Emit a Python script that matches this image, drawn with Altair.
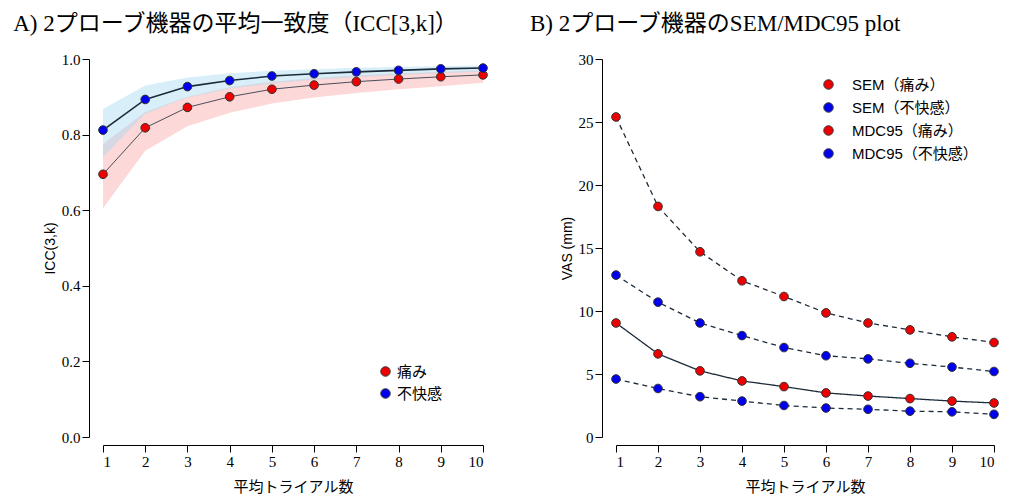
import altair as alt
import pandas as pd

trials = list(range(1, 11))
icc_pain = [0.695, 0.818, 0.872, 0.900, 0.920, 0.931, 0.940, 0.947, 0.953, 0.958]
icc_disc = [0.812, 0.893, 0.927, 0.943, 0.955, 0.961, 0.966, 0.970, 0.974, 0.976]
pain_lo = [0.605, 0.757, 0.822, 0.858, 0.882, 0.898, 0.910, 0.920, 0.928, 0.937]
pain_hi = [0.775, 0.860, 0.900, 0.925, 0.940, 0.950, 0.957, 0.962, 0.966, 0.970]
disc_lo = [0.740, 0.855, 0.898, 0.921, 0.935, 0.945, 0.952, 0.958, 0.962, 0.966]
disc_hi = [0.868, 0.930, 0.951, 0.962, 0.969, 0.973, 0.977, 0.979, 0.981, 0.983]
icc_ticks = [0, 0.1, 0.2, 0.3, 0.4, 0.5, 0.6, 0.7, 0.8, 0.9, 1.0]

mdc_pain = [25.4, 18.3, 14.7, 12.4, 11.15, 9.85, 9.05, 8.5, 7.95, 7.5]
mdc_disc = [12.85, 10.7, 9.05, 8.05, 7.1, 6.45, 6.2, 5.85, 5.55, 5.2]
sem_pain = [9.05, 6.6, 5.25, 4.45, 4.0, 3.5, 3.25, 3.05, 2.85, 2.7]
sem_disc = [4.6, 3.85, 3.2, 2.85, 2.5, 2.3, 2.2, 2.05, 2.0, 1.8]

SERIF = "Liberation Serif, Noto Sans CJK JP"
SANS = "Liberation Sans, Noto Sans CJK JP"
LINE = "#1c2b3a"

icc = pd.DataFrame({
    "k": trials * 2,
    "icc": icc_pain + icc_disc,
    "lo": pain_lo + disc_lo,
    "hi": pain_hi + disc_hi,
    "grp": ["痛み"] * 10 + ["不快感"] * 10,
})

xax = dict(values=trials, labelFont=SERIF, labelFontSize=15, title="平均トライアル数",
           titleFont=SANS, titleFontSize=15, titleFontWeight="normal", grid=False,
           offset=8, domainColor="black", tickColor="black", labelColor="black", titlePadding=10,
           labelOverlap=False, tickSize=7)
x = alt.X("k:Q", scale=alt.Scale(domain=[1, 10], nice=False), axis=alt.Axis(**xax))

yA = alt.Y("icc:Q", scale=alt.Scale(domain=[0, 1]),
           axis=alt.Axis(values=icc_ticks, format=".1f", labelFont=SERIF, labelFontSize=15,
                         labelOverlap=False, title="ICC(3,k)", titleFont=SANS, titleFontSize=14,
                         titleFontWeight="normal", grid=False, offset=14, domainColor="black",
                         tickColor="black", labelColor="black", tickSize=7))

base = alt.Chart(icc)
band = base.mark_area(opacity=0.45).encode(
    x=x, y=alt.Y("lo:Q", scale=alt.Scale(domain=[0, 1])), y2="hi:Q",
    fill=alt.Fill("grp:N", scale=alt.Scale(domain=["痛み", "不快感"], range=["#f9a8a8", "#a8dcf2"]), legend=None))
lineA = base.mark_line(color=LINE).encode(x=x, y=yA, detail="grp:N",
    strokeWidth=alt.StrokeWidth("grp:N", scale=alt.Scale(domain=["痛み", "不快感"], range=[0.8, 1.6]), legend=None))
ptsA = base.mark_point(filled=True, size=75, stroke="#333", strokeWidth=1, opacity=1).encode(
    x=x, y="icc:Q", shape=alt.value("circle"),
    fill=alt.Fill("grp:N", scale=alt.Scale(domain=["痛み", "不快感"], range=["#ee0000", "#0000ee"]),
        legend=alt.Legend(title=None, orient="none", legendX=275, legendY=305, symbolType="circle",
                          symbolSize=90, symbolStrokeColor="#333", symbolStrokeWidth=1,
                          labelFont=SANS, labelFontSize=15, rowPadding=6)))

left = alt.layer(band, lineA, ptsA).resolve_scale(fill="independent").properties(
    width=380, height=378,
    title=alt.TitleParams("A) 2プローブ機器の平均一致度（ICC[3,k]）", font=SERIF, fontSize=23,
                          fontWeight="normal", anchor="start", dx=-30, offset=16, color="black"))

names = ["SEM（痛み）", "SEM（不快感）", "MDC95（痛み）", "MDC95（不快感）"]
vas = pd.DataFrame({
    "k": trials * 4,
    "v": sem_pain + sem_disc + mdc_pain + mdc_disc,
    "s": sum([[n] * 10 for n in names], []),
})
yB = alt.Y("v:Q", scale=alt.Scale(domain=[0, 30]),
           axis=alt.Axis(values=list(range(0, 31, 5)), labelFont=SERIF, labelFontSize=15,
                         labelOverlap=False, title="VAS (mm)", titleFont=SANS, titleFontSize=14,
                         titleFontWeight="normal", grid=False, offset=14, domainColor="black",
                         tickColor="black", labelColor="black", tickSize=7))
bb = alt.Chart(vas)
lineB = bb.mark_line(color=LINE, strokeWidth=1.3).encode(x=x, y=yB, detail="s:N",
    strokeDash=alt.StrokeDash("s:N", scale=alt.Scale(domain=names, range=[[1, 0], [5, 4], [5, 4], [5, 4]]), legend=None))
ptsB = bb.mark_point(filled=True, size=75, stroke="#333", strokeWidth=1, opacity=1).encode(
    x=x, y="v:Q", shape=alt.value("circle"),
    fill=alt.Fill("s:N", scale=alt.Scale(domain=names, range=["#ee0000", "#0000ee", "#ee0000", "#0000ee"]),
                  legend=alt.Legend(title=None, orient="none", legendX=205, legendY=18, symbolType="circle",
                                    symbolSize=90, symbolStrokeColor="#333", symbolStrokeWidth=1,
                                    labelFont=SANS, labelFontSize=15, rowPadding=7, labelOffset=16)))
right = alt.layer(lineB, ptsB).properties(
    width=378, height=378,
    title=alt.TitleParams("B) 2プローブ機器のSEM/MDC95 plot", font=SERIF, fontSize=23,
                          fontWeight="normal", anchor="start", dx=-30, offset=16, color="black"))

chart = alt.hconcat(left, right, spacing=40).resolve_scale(fill="independent").configure_view(stroke=None)
chart.save("out.html", embed_options={"renderer": "svg", "actions": False})
